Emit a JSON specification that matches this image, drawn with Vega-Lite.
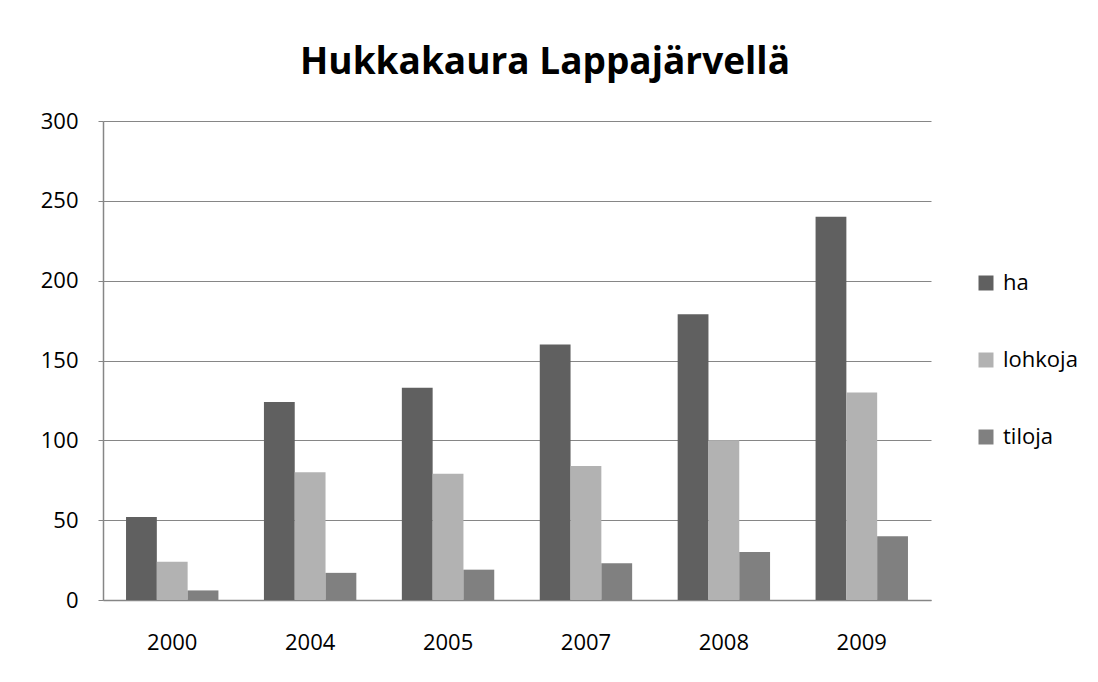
{
  "$schema": "https://vega.github.io/schema/vega-lite/v6.json",
  "width": 828,
  "height": 479,
  "autosize": {"type": "none"},
  "padding": {"left": 103, "top": 121, "right": 167, "bottom": 82},
  "background": "white",
  "title": {
    "text": "Hukkakaura Lappajärvellä",
    "font": "Open Sans",
    "fontSize": 37,
    "fontWeight": "bold",
    "color": "#000000",
    "anchor": "middle",
    "dx": 28,
    "offset": 28
  },
  "data": {
    "values": [
      {"year": "2000", "series": "ha", "value": 52},
      {"year": "2000", "series": "lohkoja", "value": 24},
      {"year": "2000", "series": "tiloja", "value": 6},
      {"year": "2004", "series": "ha", "value": 124},
      {"year": "2004", "series": "lohkoja", "value": 80},
      {"year": "2004", "series": "tiloja", "value": 17},
      {"year": "2005", "series": "ha", "value": 133},
      {"year": "2005", "series": "lohkoja", "value": 79},
      {"year": "2005", "series": "tiloja", "value": 19},
      {"year": "2007", "series": "ha", "value": 160},
      {"year": "2007", "series": "lohkoja", "value": 84},
      {"year": "2007", "series": "tiloja", "value": 23},
      {"year": "2008", "series": "ha", "value": 179},
      {"year": "2008", "series": "lohkoja", "value": 100},
      {"year": "2008", "series": "tiloja", "value": 30},
      {"year": "2009", "series": "ha", "value": 240},
      {"year": "2009", "series": "lohkoja", "value": 130},
      {"year": "2009", "series": "tiloja", "value": 40}
    ]
  },
  "mark": {"type": "bar"},
  "encoding": {
    "x": {
      "field": "year",
      "type": "ordinal",
      "title": null,
      "scale": {"paddingInner": 0.33, "paddingOuter": 0.167},
      "axis": {
        "labelAngle": 0,
        "labelFont": "Open Sans",
        "labelFontSize": 22,
        "labelColor": "#000000",
        "labelPadding": 32,
        "domainColor": "#868686",
        "domainWidth": 1.5,
        "ticks": false
      }
    },
    "xOffset": {
      "field": "series",
      "type": "nominal",
      "sort": ["ha", "lohkoja", "tiloja"],
      "scale": {"paddingInner": 0, "paddingOuter": 0}
    },
    "y": {
      "field": "value",
      "type": "quantitative",
      "title": null,
      "scale": {"domain": [0, 300], "nice": false},
      "axis": {
        "values": [0, 50, 100, 150, 200, 250, 300],
        "labelFont": "Open Sans",
        "labelFontSize": 22,
        "labelColor": "#000000",
        "labelPadding": 20,
        "tickSize": 5,
        "tickColor": "#868686",
        "domainColor": "#868686",
        "domainWidth": 1.5,
        "gridColor": "#868686",
        "gridWidth": 1
      }
    },
    "color": {
      "field": "series",
      "type": "nominal",
      "sort": ["ha", "lohkoja", "tiloja"],
      "scale": {"domain": ["ha", "lohkoja", "tiloja"], "range": ["#606060", "#b2b2b2", "#808080"]},
      "legend": {
        "title": null,
        "orient": "none",
        "legendX": 872,
        "legendY": 151,
        "symbolType": "square",
        "symbolSize": 225,
        "symbolStrokeWidth": 0,
        "labelFont": "Open Sans",
        "labelFontSize": 22,
        "labelColor": "#000000",
        "labelOffset": 6,
        "rowPadding": 55
      }
    }
  },
  "config": {
    "view": {"stroke": null}
  }
}
